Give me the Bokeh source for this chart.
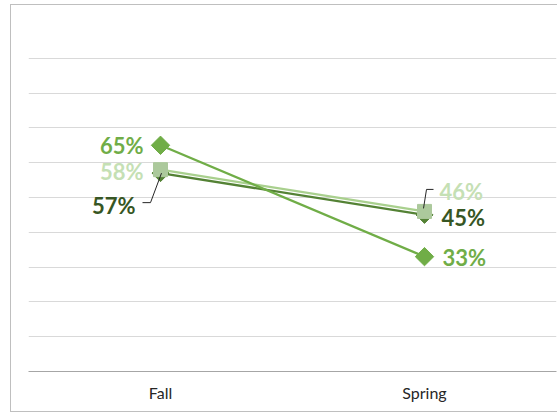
import math
from bokeh.plotting import figure
from bokeh.models import Range1d, FixedTicker
from bokeh.core.properties import value
from bokeh.embed import file_html
from bokeh.resources import INLINE

# ---- data ----
categories = ["Fall", "Spring"]
series_a = [65, 33]   # medium green, diamonds
series_b = [58, 46]   # light green, squares
series_c = [57, 45]   # dark green, diamonds
y_ticks = [0, 10, 20, 30, 40, 50, 60, 70, 80, 90, 100]

xs = [i + 0.5 for i in range(len(categories))]

W, H = 547, 408
BL, BR, BT, BB = 17, 2, 18, 42
p = figure(width=W, height=H, output_backend="svg", toolbar_location=None,
           x_range=Range1d(0, len(categories)), y_range=Range1d(0, 100),
           min_border_left=BL, min_border_right=BR, min_border_top=BT, min_border_bottom=BB)
p.styles = {"margin-left": "10px", "margin-top": "4px",
            "border-left": "1px solid #bfbfbf", "border-top": "1px solid #bfbfbf",
            "border-bottom": "1px solid #bfbfbf"}

PXX = (W - BL - BR) / len(categories)   # px per x unit
PXY = (H - BT - BB) / 100.0             # px per y unit

p.outline_line_color = None
p.background_fill_color = "white"
p.border_fill_color = "white"

p.yaxis.visible = False
p.yaxis.ticker = FixedTicker(ticks=y_ticks)
p.ygrid.ticker = FixedTicker(ticks=y_ticks)
p.ygrid.grid_line_color = "#d9d9d9"
p.ygrid.grid_line_width = 1
p.xgrid.grid_line_color = None

p.xaxis.ticker = FixedTicker(ticks=xs)
p.xaxis.major_label_overrides = {x: c for x, c in zip(xs, categories)}
p.xaxis.axis_line_color = "#a6a6a6"
p.xaxis.axis_line_width = 1
p.xaxis.major_tick_line_color = None
p.xaxis.minor_tick_line_color = None
p.xaxis.major_tick_out = 0
p.xaxis.major_tick_in = 0
p.xaxis.major_label_standoff = 11
p.xaxis.major_label_text_font = "Lato"
p.xaxis.major_label_text_font_size = "16px"
p.xaxis.major_label_text_color = "#262626"

A_COL, B_COL, C_COL = "#70ad47", "#a9d08e", "#548235"
A_LAB, B_LAB, C_LAB = "#70ad47", "#c5e0b4", "#375623"
ROT = math.pi / 4

# series C (dark)
p.line(xs, series_c, line_color=C_COL, line_width=2.25)
p.scatter(xs, series_c, marker="square", angle=ROT, size=12, fill_color=C_COL, line_color=C_COL)
# series B (light)
p.line(xs, series_b, line_color=B_COL, line_width=2.25)
p.scatter(xs, series_b, marker="square", size=14, fill_color="#acc99c", line_color="#acc99c")
# series A (medium)
p.line(xs, series_a, line_color=A_COL, line_width=2.25)
p.scatter(xs, series_a, marker="square", angle=ROT, size=13, fill_color=A_COL, line_color=A_COL)

# leader lines (pixel offsets from the data point)
def leader(xv, yv, pts):
    lx = [xv + dx / PXX for dx, dy in pts]
    ly = [yv - dy / PXY for dx, dy in pts]
    p.line(lx, ly, line_color="#262626", line_width=1)

leader(xs[0], series_c[0], [(-18, 29.5), (-10, 29.5), (1, 0)])
leader(xs[1], series_b[1], [(9, -22), (2, -22), (-1, -3)])

def label(xv, yv, txt, color, align, dx, dy):
    p.text([xv], [yv], text=[txt], text_color=color, text_align=align,
           text_baseline="middle", x_offset=dx, y_offset=dy,
           text_font=value("Lato"), text_font_style="bold", text_font_size="22px")

# Fall labels
label(xs[0], series_a[0], f"{series_a[0]}%", A_LAB, "right", -17, 0)
label(xs[0], series_b[0], f"{series_b[0]}%", B_LAB, "right", -17, 2)
label(xs[0], series_c[0], f"{series_c[0]}%", C_LAB, "right", -25, 32)
# Spring labels
label(xs[1], series_b[1], f"{series_b[1]}%", B_LAB, "left", 15, -20)
label(xs[1], series_c[1], f"{series_c[1]}%", C_LAB, "left", 17, 3)
label(xs[1], series_a[1], f"{series_a[1]}%", A_LAB, "left", 18, 1)

open("out.html", "w").write(file_html(p, INLINE))
